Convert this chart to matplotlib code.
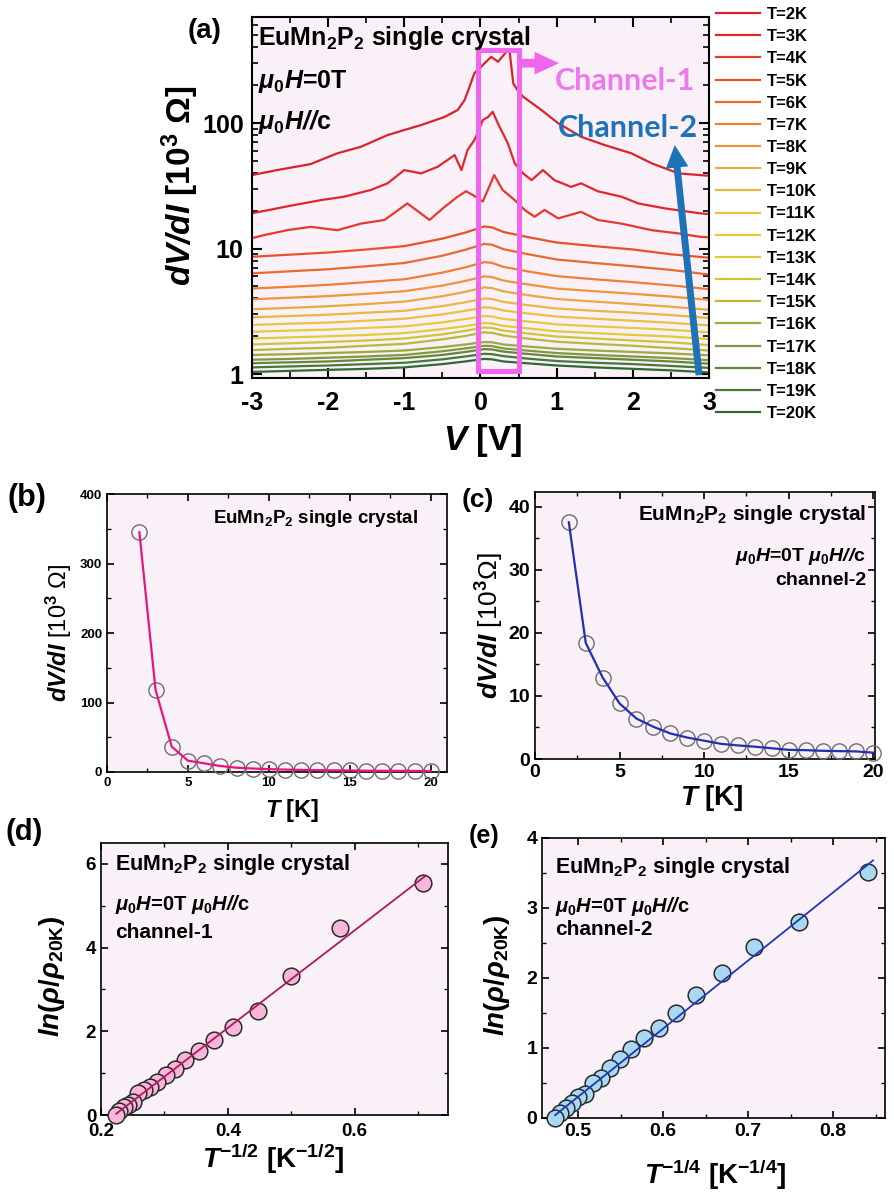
import numpy as np
import matplotlib
matplotlib.use("Agg")
import matplotlib.pyplot as plt
from matplotlib.ticker import MultipleLocator, LogLocator, NullFormatter

W, H = 895, 1193

# ---------------- panel (a): dV/dI vs V ----------------
LABELS_A = ["T=%dK" % t for t in range(2, 21)]

V_2K = [-3.0, -2.67, -2.23, -1.88, -1.57, -1.22, -1.0, -0.78, -0.47, -0.30, -0.21,
        -0.15, -0.08, 0.03, 0.14, 0.23, 0.34, 0.38, 0.43, 0.48, 0.56, 0.80, 1.02,
        1.32, 1.63, 1.98, 2.25, 2.60, 2.88, 3.0]
DVDI_2K = [38.5, 42.2, 47.1, 57.4, 64.7, 80.2, 88, 96.4, 112, 127, 152,
           190, 250, 290, 337, 308, 370, 383, 207, 185, 162, 127, 99.6,
           77.8, 66.8, 57.4, 47.7, 39.7, 38.5, 38.0]

V_3K = [-3.0, -2.67, -2.45, -2.10, -1.79, -1.44, -1.22, -1.0, -0.78, -0.56, -0.34,
        -0.25, -0.17, -0.08, -0.04, 0.03, 0.10, 0.16, 0.23, 0.36, 0.45, 0.56, 0.67,
        0.82, 0.97, 1.19, 1.32, 1.54, 1.85, 2.07, 2.42, 2.88, 3.0]
DVDI_3K = [19.1, 20.9, 22.2, 24.3, 25.9, 29.3, 33.1, 42.2, 39.7, 44.9, 55.6,
           42.2, 61.0, 73.2, 82.8, 105.6, 112, 123, 99, 68.7, 47.7, 39.7, 35.1,
           42.2, 35.1, 31.0, 33.1, 28.6, 25.9, 22.9, 20.9, 19.1, 18.8]

V_4K = [-3.0, -2.84, -2.54, -2.23, -1.88, -1.57, -1.26, -0.96, -0.67, -0.47, -0.30,
        -0.19, -0.10, 0.03, 0.18, 0.29, 0.45, 0.58, 0.71, 0.84, 1.02, 1.32, 1.54,
        1.85, 2.25, 2.60, 2.88, 3.0]
DVDI_4K = [12.1, 12.8, 14.0, 14.9, 14.0, 15.8, 16.9, 22.9, 16.9, 21.5, 25.9,
           28.6, 26.7, 23.7, 38.5, 29.3, 24.3, 20.3, 17.9, 20.3, 17.4, 19.6, 16.9,
           15.8, 14.0, 13.2, 12.4, 12.3]

V_GRID = [-3, -2.5, -2, -1.5, -1, -0.5, -0.2, 0.05, 0.15, 0.3, 0.6, 1, 1.5, 2, 2.5, 3]
DVDI_5K = [8.6, 8.94, 9.30, 9.83, 10.45, 12.0, 13.4, 15.0, 14.75, 13.57, 12.41, 11.17, 10.45, 9.83, 9.0, 8.45]
DVDI_6K = [6.34, 6.59, 6.84, 7.22, 7.67, 8.77, 9.78, 10.9, 10.73, 9.89, 9.07, 8.18, 7.67, 7.22, 6.76, 6.2]
DVDI_7K = [4.8, 4.96, 5.14, 5.40, 5.69, 6.43, 7.08, 7.8, 7.69, 7.15, 6.61, 6.03, 5.69, 5.40, 5.09, 4.75]
DVDI_8K = [3.94, 4.06, 4.18, 4.36, 4.57, 5.07, 5.52, 6.0, 5.93, 5.56, 5.20, 4.80, 4.57, 4.36, 4.14, 3.9]
DVDI_9K = [3.28, 3.37, 3.47, 3.61, 3.78, 4.17, 4.52, 4.9, 4.84, 4.56, 4.27, 3.96, 3.78, 3.61, 3.44, 3.25]
DVDI_10K = [2.83, 2.90, 2.97, 3.08, 3.19, 3.48, 3.73, 4.0, 3.96, 3.76, 3.55, 3.33, 3.19, 3.08, 2.95, 2.8]
DVDI_11K = [2.46, 2.52, 2.57, 2.66, 2.76, 2.99, 3.19, 3.4, 3.37, 3.21, 3.05, 2.87, 2.76, 2.66, 2.56, 2.44]
DVDI_12K = [2.17, 2.22, 2.26, 2.33, 2.40, 2.58, 2.74, 2.9, 2.88, 2.75, 2.63, 2.49, 2.40, 2.33, 2.25, 2.15]
DVDI_13K = [1.92, 1.96, 2.00, 2.05, 2.12, 2.28, 2.41, 2.55, 2.53, 2.42, 2.32, 2.19, 2.12, 2.05, 1.99, 1.9]
DVDI_14K = [1.72, 1.76, 1.80, 1.85, 1.92, 2.07, 2.21, 2.35, 2.33, 2.22, 2.11, 1.99, 1.92, 1.85, 1.79, 1.7]
DVDI_15K = [1.55, 1.59, 1.62, 1.68, 1.74, 1.89, 2.01, 2.15, 2.13, 2.03, 1.92, 1.81, 1.74, 1.68, 1.61, 1.54]
DVDI_16K = [1.42, 1.44, 1.47, 1.50, 1.54, 1.64, 1.72, 1.8, 1.79, 1.72, 1.66, 1.59, 1.54, 1.50, 1.46, 1.41]
DVDI_17K = [1.30, 1.32, 1.35, 1.38, 1.42, 1.52, 1.60, 1.68, 1.67, 1.60, 1.54, 1.47, 1.42, 1.38, 1.34, 1.29]
DVDI_18K = [1.22, 1.24, 1.26, 1.30, 1.34, 1.42, 1.50, 1.58, 1.57, 1.51, 1.45, 1.38, 1.34, 1.30, 1.26, 1.21]
DVDI_19K = [1.13, 1.15, 1.17, 1.20, 1.23, 1.31, 1.38, 1.45, 1.44, 1.39, 1.33, 1.27, 1.23, 1.20, 1.16, 1.12]
DVDI_20K = [1.04, 1.06, 1.08, 1.10, 1.13, 1.20, 1.26, 1.32, 1.31, 1.26, 1.22, 1.17, 1.13, 1.10, 1.07, 1.03]

# ---------------- panels (b)-(e) ----------------
T_K = [2, 3, 4, 5, 6, 7, 8, 9, 10, 11, 12, 13, 14, 15, 16, 17, 18, 19, 20]
DVDI_CH1 = [345, 118, 36.4, 16.3, 12.5, 8.6, 6.2, 5.0, 4.1, 3.5, 3.0, 2.6, 2.4, 2.2, 1.8, 1.7, 1.6, 1.5, 1.3]
DVDI_CH2 = [37.5, 18.4, 12.9, 8.8, 6.4, 5.1, 4.05, 3.4, 2.9, 2.4, 2.15, 1.95, 1.7, 1.45, 1.4, 1.3, 1.25, 1.2, 1.0]

T_HALF = [0.707, 0.577, 0.5, 0.447, 0.408, 0.378, 0.354, 0.333, 0.316, 0.302,
          0.289, 0.277, 0.267, 0.258, 0.25, 0.243, 0.236, 0.229, 0.224]
LN_CH1 = [5.55, 4.48, 3.33, 2.48, 2.10, 1.79, 1.52, 1.31, 1.11, 0.95,
          0.79, 0.67, 0.60, 0.53, 0.32, 0.25, 0.18, 0.10, 0.0]
FIT1_X = [0.224, 0.712]
FIT1_Y = [0.03, 5.72]

T_QUARTER = [0.841, 0.760, 0.707, 0.669, 0.639, 0.615, 0.595, 0.577, 0.562, 0.549,
             0.537, 0.527, 0.517, 0.508, 0.5, 0.493, 0.486, 0.479, 0.473]
LN_CH2 = [3.52, 2.80, 2.45, 2.07, 1.76, 1.50, 1.29, 1.14, 0.98, 0.84,
          0.71, 0.57, 0.50, 0.35, 0.30, 0.21, 0.14, 0.07, 0.0]
FIT2_X = [0.473, 0.847]
FIT2_Y = [0.04, 3.68]

COLORS_A = ["#d8232f", "#e0262f", "#e33a2e", "#e6522c", "#ea6a2e", "#ed8034", "#ee953a",
            "#eaa840", "#e9b843", "#e8c23e", "#e7c93a", "#e0cc34", "#cdc538", "#b5ba3c",
            "#99aa3e", "#7f9a3e", "#62883b", "#467837", "#2f6a32"]
BG = "#faf0f8"
MAGENTA = "#f064ee"
BLUE = "#1d72b8"

plt.rcParams["font.family"] = "Liberation Sans"
plt.rcParams["font.weight"] = "bold"
plt.rcParams["axes.unicode_minus"] = False
plt.rcParams["mathtext.fontset"] = "custom"
plt.rcParams["mathtext.rm"] = "Liberation Sans"
plt.rcParams["mathtext.it"] = "Liberation Sans:italic"
plt.rcParams["mathtext.bf"] = "Liberation Sans:bold"
try:
    plt.rcParams["mathtext.bfit"] = "Liberation Sans:italic:bold"
except KeyError:
    pass

fig = plt.figure(figsize=(W / 100, H / 100), dpi=100)


def add_ax(l, t, r, b):
    return fig.add_axes([l / W, 1 - b / H, (r - l) / W, (b - t) / H])


def ptxt(x, y, s, **kw):
    return fig.text(x / W, 1 - y / H, s, **kw)


def style(ax, size, lw=1.2):
    ax.set_facecolor(BG)
    for sp in ax.spines.values():
        sp.set_linewidth(lw)
    ax.tick_params(which="both", direction="in", top=True, right=True, labelsize=size)
    ax.tick_params(which="major", length=5, width=lw)
    ax.tick_params(which="minor", length=3, width=lw * 0.8)


MU_LINE = r"$\mu_{\mathit{0}}\mathbfit{H}$=0T $\mu_{\mathit{0}}\mathbfit{H//}$c"
EU = r"EuMn$_\mathbf{2}$P$_\mathbf{2}$ single crystal"

# ----- (a) -----
ax = add_ax(252, 17, 709, 378)
style(ax, 18, lw=1.5)
curves = [(V_2K, DVDI_2K), (V_3K, DVDI_3K), (V_4K, DVDI_4K),
          (V_GRID, DVDI_5K), (V_GRID, DVDI_6K), (V_GRID, DVDI_7K), (V_GRID, DVDI_8K),
          (V_GRID, DVDI_9K), (V_GRID, DVDI_10K), (V_GRID, DVDI_11K), (V_GRID, DVDI_12K),
          (V_GRID, DVDI_13K), (V_GRID, DVDI_14K), (V_GRID, DVDI_15K), (V_GRID, DVDI_16K),
          (V_GRID, DVDI_17K), (V_GRID, DVDI_18K), (V_GRID, DVDI_19K), (V_GRID, DVDI_20K)]
handles = []
for (v, r), c, lab in zip(curves, COLORS_A, LABELS_A):
    h, = ax.plot(v, r, color=c, lw=1.6, label=lab)
    handles.append(h)
ax.set_yscale("log")
ax.set_xlim(-3, 3)
ax.set_ylim(0.93, 700)
ax.set_yticks([1, 10, 100])
ax.set_yticklabels(["1", "10", "100"])
ax.yaxis.set_minor_locator(LogLocator(base=10, subs=np.arange(2, 10)))
ax.yaxis.set_minor_formatter(NullFormatter())
ax.xaxis.set_major_locator(MultipleLocator(1))
ax.xaxis.set_minor_locator(MultipleLocator(0.5))
ax.tick_params(which="major", length=7)
ax.tick_params(which="minor", length=4)
ax.tick_params(axis="x", pad=9)
ax.tick_params(axis="y", pad=6)

ax.plot([-0.03, 0.5, 0.5, -0.03, -0.03], [1.06, 1.06, 383, 383, 1.06],
        color=MAGENTA, lw=3.6, solid_joinstyle="miter", zorder=6, clip_on=False)
ax.annotate("", xy=(1.03, 300), xytext=(0.5, 300), annotation_clip=False,
            arrowprops=dict(arrowstyle="simple,head_length=0.7,head_width=0.65,tail_width=0.25",
                            color=MAGENTA, lw=0, shrinkA=0, shrinkB=0, mutation_scale=25),
            zorder=6)
ax.annotate("", xy=(2.55, 66.8), xytext=(2.87, 0.98), annotation_clip=False,
            arrowprops=dict(arrowstyle="simple,head_length=0.65,head_width=0.65,tail_width=0.2",
                            color=BLUE, lw=0, shrinkA=0, shrinkB=0, mutation_scale=25),
            zorder=6)

ptxt(258, 45, EU, fontsize=18, va="baseline")
ptxt(258, 88, r"$\mu_{\mathit{0}}\mathbfit{H}$=0T", fontsize=18, va="baseline")
ptxt(258, 129, r"$\mu_{\mathit{0}}\mathbfit{H//}$c", fontsize=18, va="baseline")
ptxt(555, 90, "Channel-1", fontsize=22, family="Lato", color="#ee78ec", va="baseline")
ptxt(558, 137, "Channel-2", fontsize=22, family="Lato", color=BLUE, va="baseline")
ptxt(205, 31, "(a)", fontsize=20, ha="center", va="center")
ptxt(180, 186, r"$\mathbfit{dV/dI}$ [10$^\mathbf{3}$ Ω]", fontsize=24, rotation=90,
     ha="center", va="center")
ptxt(483, 440, r"$\mathbfit{V}$ [V]", fontsize=25, ha="center", va="center")

fig.legend(handles, LABELS_A, loc="upper left", bbox_to_anchor=(716 / W, 1 - 7 / H),
           frameon=False, fontsize=12, handlelength=2.65, handletextpad=0.4,
           labelspacing=0.43, borderpad=0, borderaxespad=0)

# ----- (b) -----
ax = add_ax(107, 494, 447, 772)
style(ax, 9.5)
ax.plot(T_K, DVDI_CH1, "o", ms=11, mfc="none", mec="#6e6e6e", mew=1.0, clip_on=False, zorder=3)
ax.plot(T_K, DVDI_CH1, color="#e8157d", lw=1.6, zorder=4)
ax.set_xlim(0, 21)
ax.set_ylim(0, 400)
ax.xaxis.set_major_locator(MultipleLocator(5))
ax.xaxis.set_minor_locator(MultipleLocator(2.5))
ax.yaxis.set_major_locator(MultipleLocator(100))
ax.yaxis.set_minor_locator(MultipleLocator(50))
ptxt(213, 523, EU, fontsize=13.5, va="baseline")
ptxt(27, 498, "(b)", fontsize=22, ha="center", va="center")
ptxt(59, 633, r"$\mathbfit{dV/dI}$ [10$^3$ Ω]", fontsize=17, rotation=90,
     ha="center", va="center", fontweight="normal")
ptxt(292, 810, r"$\mathbfit{T}$ [K]", fontsize=17, ha="center", va="center")

# ----- (c) -----
ax = add_ax(535, 492, 875, 759)
style(ax, 14)
ax.plot(T_K, DVDI_CH2, "o", ms=11, mfc="none", mec="#6e6e6e", mew=1.0, clip_on=False, zorder=3)
ax.plot(T_K, DVDI_CH2, color="#1f30b0", lw=1.6, zorder=4)
ax.set_xlim(0, 20.1)
ax.set_ylim(0, 42.3)
ax.xaxis.set_major_locator(MultipleLocator(5))
ax.xaxis.set_minor_locator(MultipleLocator(2.5))
ax.yaxis.set_major_locator(MultipleLocator(10))
ax.yaxis.set_minor_locator(MultipleLocator(5))
ptxt(866, 520, EU, fontsize=15, ha="right", va="baseline")
ptxt(866, 561, MU_LINE, fontsize=14, ha="right", va="baseline")
ptxt(866, 585, "channel-2", fontsize=14, ha="right", va="baseline")
ptxt(478, 500, "(c)", fontsize=19, ha="center", va="center")
ptxt(490, 626, r"$\mathbfit{dV/dI}$ [10$^3$Ω]", fontsize=19, rotation=90,
     ha="center", va="center", fontweight="normal")
ptxt(712, 798, r"$\mathbfit{T}$ [K]", fontsize=20, ha="center", va="center")

# ----- (d) -----
ax = add_ax(101, 843, 448, 1115)
style(ax, 13.5)
ax.plot(T_HALF, LN_CH1, "o", ms=12, mfc="#f7b6da", mec="#2a2a2a", mew=1.1, clip_on=False, zorder=3)
ax.plot(FIT1_X, FIT1_Y, color="#b01a5c", lw=1.3, zorder=4)
ax.set_xlim(0.2, 0.747)
ax.set_ylim(0, 6.5)
ax.xaxis.set_major_locator(MultipleLocator(0.2))
ax.xaxis.set_minor_locator(MultipleLocator(0.1))
ax.yaxis.set_major_locator(MultipleLocator(2))
ax.yaxis.set_minor_locator(MultipleLocator(1))
ax.tick_params(axis="x", pad=6)
ptxt(115, 870, EU, fontsize=15.5, va="baseline")
ptxt(115, 910, MU_LINE, fontsize=14.5, va="baseline")
ptxt(115, 938, "channel-1", fontsize=15, va="baseline")
ptxt(24, 832, "(d)", fontsize=21, ha="center", va="center")
ptxt(52, 976, r"$\mathbfit{ln}(\rho/\rho_{\mathbf{20K}})$", fontsize=20, rotation=90,
     ha="center", va="center")
ptxt(273, 1159, r"$\mathbfit{T}^{\mathit{-1/2}}$ [K$^{\mathit{-1/2}}$]", fontsize=20,
     ha="center", va="center")

# ----- (e) -----
ax = add_ax(542, 838, 885, 1118)
style(ax, 14)
ax.plot(T_QUARTER, LN_CH2, "o", ms=12, mfc="#a9d8f3", mec="#2a2a2a", mew=1.1, clip_on=False, zorder=3)
ax.plot(FIT2_X, FIT2_Y, color="#1f35b5", lw=1.3, zorder=4)
ax.set_xlim(0.4576, 0.861)
ax.set_ylim(0, 4)
ax.xaxis.set_major_locator(MultipleLocator(0.1))
ax.xaxis.set_minor_locator(MultipleLocator(0.05))
ax.yaxis.set_major_locator(MultipleLocator(1))
ax.yaxis.set_minor_locator(MultipleLocator(0.5))
ptxt(555, 873, EU, fontsize=15.5, va="baseline")
ptxt(555, 912, MU_LINE, fontsize=14.5, va="baseline")
ptxt(555, 935, "channel-2", fontsize=15, va="baseline")
ptxt(484, 836, "(e)", fontsize=18, ha="center", va="center")
ptxt(497, 975, r"$\mathbfit{ln}(\rho/\rho_{\mathbf{20K}})$", fontsize=20, rotation=90,
     ha="center", va="center")
ptxt(715, 1175, r"$\mathbfit{T}^{\mathit{-1/4}}$ [K$^{\mathit{-1/4}}$]", fontsize=20,
     ha="center", va="center")

fig.savefig("out.png", dpi=100)
